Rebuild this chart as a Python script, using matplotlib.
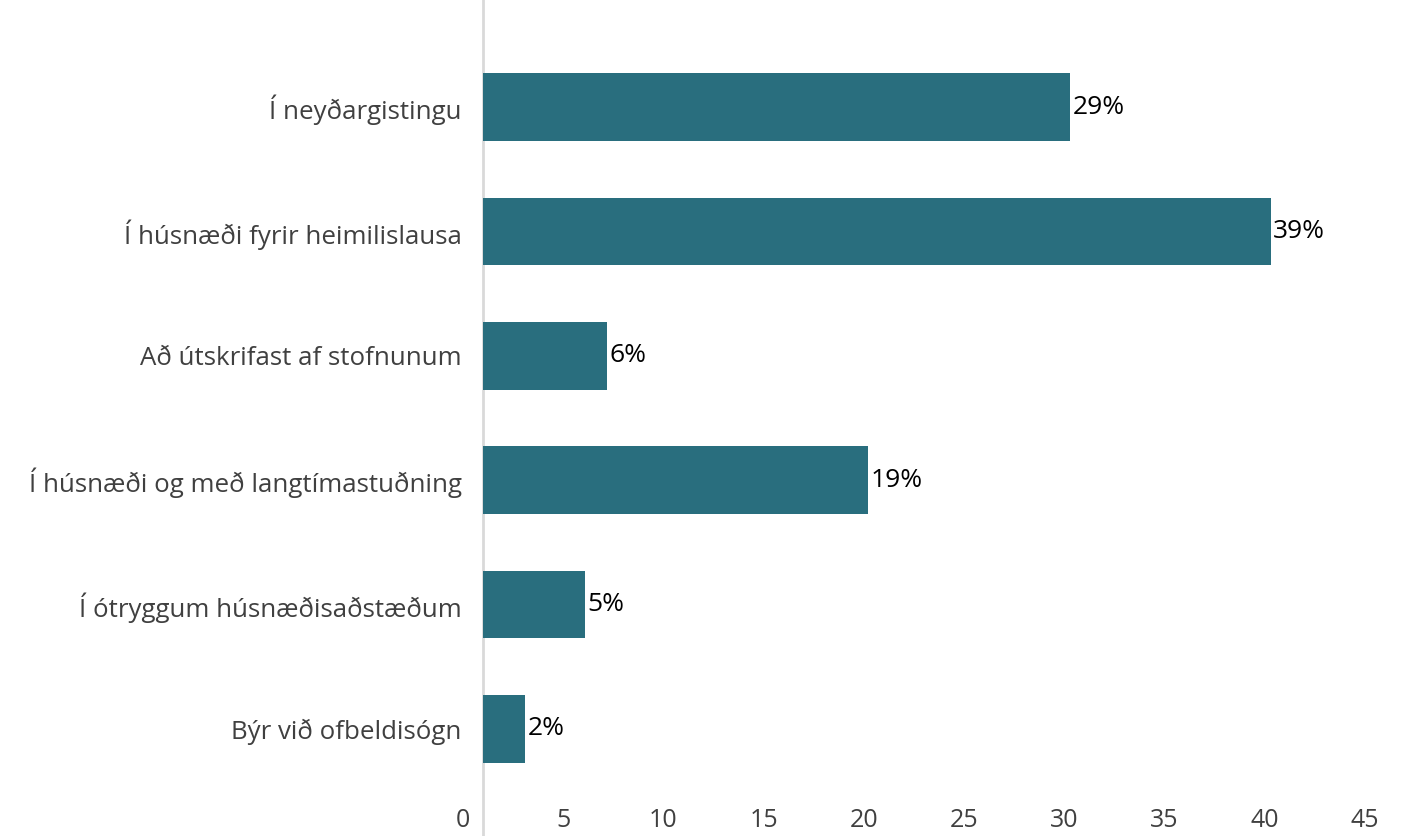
import matplotlib
matplotlib.use('Agg')
from matplotlib import pyplot as plt

categories = ['Í neyðargistingu', 'Í húsnæði fyrir heimilislausa',
              'Að útskrifast af stofnunum', 'Í húsnæði og með langtímastuðning',
              'Í ótryggum húsnæðisaðstæðum', 'Býr við ofbeldisógn']
values = [29.3, 39.3, 6.2, 19.2, 5.1, 2.1]
labels = ['29%', '39%', '6%', '19%', '5%', '2%']
base = 1
xticks = [0, 5, 10, 15, 20, 25, 30, 35, 40, 45]

plt.rcParams['font.family'] = ['Open Sans', 'DejaVu Sans']

fig = plt.figure(figsize=(14.12, 8.36), dpi=100)
ax = fig.add_axes([463/1412, 1-791/836, (1365-463)/1412, (791-45)/836])

ypos = list(range(len(categories)))
ax.barh(ypos, values, left=base, height=0.545, color='#296e7e')
for y, v, lab in zip(ypos, values, labels):
    ax.text(base+v+0.12, y, lab, va='center', ha='left', fontsize=19, color='black')

ax.set_xlim(0, 45)
ax.set_ylim(len(categories)-0.5, -0.5)
ax.set_xticks(xticks)
ax.set_xticklabels([str(t) for t in xticks], fontsize=18, color='#404040')
ax.set_yticks(ypos)
ax.set_yticklabels(categories, fontsize=18.6, color='#404040')
ax.tick_params(axis='both', length=0)
ax.tick_params(axis='x', pad=12)
ax.tick_params(axis='y', pad=1)
for s in ax.spines.values():
    s.set_visible(False)
ax.axvline(base, ymin=-0.06, ymax=1.06, color='#d9d9d9', lw=2, clip_on=False, zorder=0)

plt.savefig('out.png', dpi=100)
